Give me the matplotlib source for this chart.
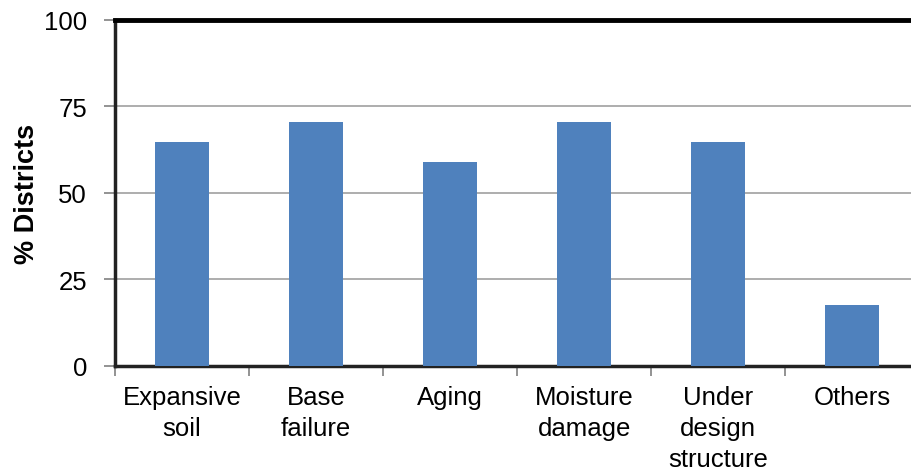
import matplotlib.pyplot as plt
import numpy as np

plt.rcParams['font.family'] = ['Liberation Sans', 'DejaVu Sans']

categories = ["Expansive\nsoil", "Base\nfailure", "Aging", "Moisture\ndamage",
              "Under\ndesign\nstructure", "Others"]
pct_districts = [64.7, 70.6, 58.8, 70.6, 64.7, 17.6]
y_ticks = [0, 25, 50, 75, 100]

fig = plt.figure(figsize=(9.12, 4.77), dpi=100)
ax = fig.add_axes([0.126, 0.231, 0.882, 0.725])

x = np.arange(len(categories))
ax.bar(x, pct_districts, width=0.4, color="#4F81BD", zorder=3)

ax.set_xlim(-0.5, len(categories) - 0.5)
ax.set_ylim(0, 100)
ax.set_yticks(y_ticks)
ax.yaxis.grid(True, color="#A0A0A0", linewidth=1.2, zorder=0)

# category ticks sit between the bars
ax.set_xticks(np.arange(len(categories) + 1) - 0.5, minor=True)
ax.set_xticks(x)
ax.set_xticklabels(categories, fontsize=18.5, linespacing=1.35)
ax.tick_params(axis="x", which="major", length=0, pad=14)
ax.tick_params(axis="x", which="minor", length=7, width=1.2, color="#808080")
ax.tick_params(axis="y", length=8, width=1.2, color="#808080", labelsize=18.5, pad=12)

ax.spines["top"].set_linewidth(3.5)
ax.spines["top"].set_color("black")
ax.spines["left"].set_linewidth(2.5)
ax.spines["left"].set_color("#222222")
ax.spines["bottom"].set_linewidth(2.5)
ax.spines["bottom"].set_color("#222222")
ax.spines["right"].set_visible(False)

ax.set_ylabel("% Districts", fontsize=19.5, fontweight="bold")
ax.yaxis.set_label_coords(-0.093, 0.5)

fig.savefig("out.png", dpi=100)
